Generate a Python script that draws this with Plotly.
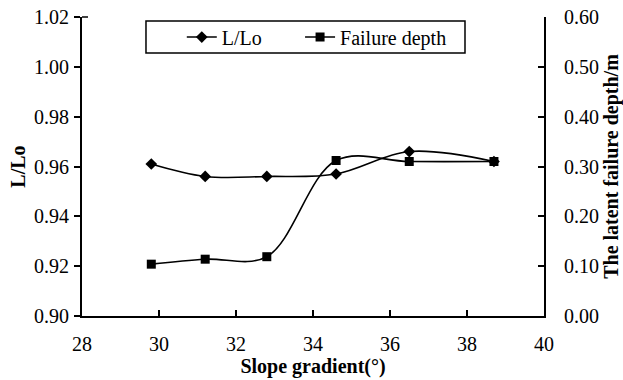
import plotly.graph_objects as go

# Slope gradient (degrees) for each test
slope_deg = [29.8, 31.2, 32.8, 34.6, 36.5, 38.7]
# Normalised length L/Lo
l_ratio = [0.961, 0.956, 0.956, 0.957, 0.966, 0.962]
# Latent failure depth (m)
failure_depth = [0.104, 0.114, 0.119, 0.312, 0.310, 0.310]

x_ticks = [28, 30, 32, 34, 36, 38, 40]
left_ticks = [0.90, 0.92, 0.94, 0.96, 0.98, 1.00, 1.02]
right_ticks = [0.0, 0.1, 0.2, 0.3, 0.4, 0.5, 0.6]

FONT = "Liberation Serif"

fig = go.Figure()
fig.add_trace(go.Scatter(
    x=slope_deg, y=l_ratio, name="L/Lo", mode="lines+markers",
    line=dict(color="black", width=1.6, shape="spline", smoothing=1.0),
    marker=dict(symbol="diamond", size=9, color="black"),
    yaxis="y", legend="legend",
))
fig.add_trace(go.Scatter(
    x=slope_deg, y=failure_depth, name="Failure depth", mode="lines+markers",
    line=dict(color="black", width=1.6, shape="spline", smoothing=1.0),
    marker=dict(symbol="square", size=9, color="black"),
    yaxis="y2", legend="legend2",
))

axis_common = dict(
    showgrid=False, zeroline=False, showline=True, linecolor="black",
    linewidth=1.8, ticklen=6, tickwidth=1.5, tickcolor="black", automargin=False,
    tickfont=dict(family=FONT, size=20, color="black"),
)

legend_common = dict(
    orientation="h", yanchor="middle", xanchor="left", y=0.933,
    borderwidth=0, bgcolor="rgba(0,0,0,0)",
    font=dict(family=FONT, size=20, color="black"), itemwidth=30,
)

fig.update_layout(
    width=623, height=380,
    margin=dict(l=82, r=79, t=17, b=64),
    paper_bgcolor="white", plot_bgcolor="white",
    font=dict(family=FONT, size=20, color="black"),
    xaxis=dict(
        range=[28, 40], tickvals=x_ticks, ticks="inside", ticklabelstandoff=9,
        title=dict(text="<b>Slope gradient(°)</b>", font=dict(family=FONT, size=20), standoff=4),
        **axis_common,
    ),
    yaxis=dict(
        range=[0.90, 1.02], tickvals=left_ticks, tickformat=".2f", ticks="outside",
        ticklabelstandoff=1,
        title=dict(text="<b>L/Lo</b>", font=dict(family=FONT, size=20), standoff=3),
        **axis_common,
    ),
    yaxis2=dict(
        range=[0.0, 0.6], tickvals=right_ticks, tickformat=".2f", ticks="inside",
        overlaying="y", side="right", ticklabelstandoff=14,
        title=dict(text="<b>The latent failure depth/m</b>", font=dict(family=FONT, size=20), standoff=6),
        **axis_common,
    ),
    legend=dict(x=0.216, **legend_common),
    legend2=dict(x=0.472, **legend_common),
    shapes=[
        # frame around the legend entries
        dict(type="rect", xref="paper", yref="paper",
             x0=0.1385, x1=0.829, y0=0.8796, y1=0.9866,
             line=dict(color="black", width=1.5), fillcolor="white", layer="below"),
        # inward end tick at the top of the left axis
        dict(type="line", xref="paper", yref="paper",
             x0=0, x1=0.013, y0=1, y1=1,
             line=dict(color="black", width=1.5)),
    ],
    showlegend=True,
)

fig.write_html("out.html")
